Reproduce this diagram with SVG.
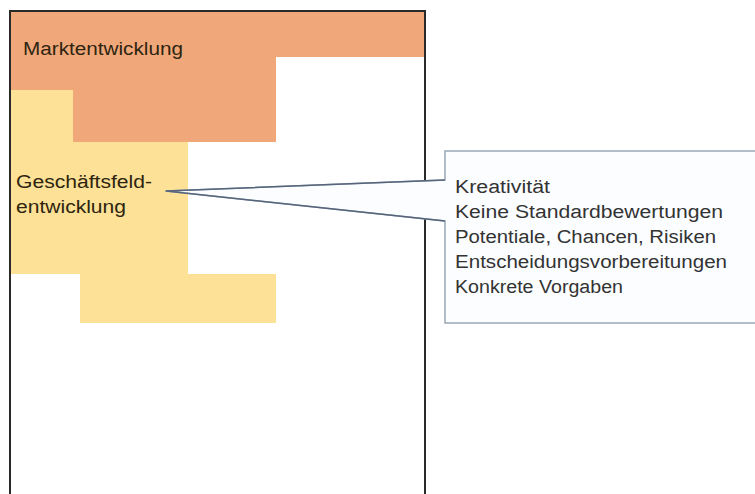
<svg xmlns="http://www.w3.org/2000/svg" width="755" height="494" viewBox="0 0 755 494">
  <style>
    .lbl { font-family: "Liberation Sans", Arial, sans-serif; font-size: 18px; fill: #2e2410; }
    .note { font-family: "Liberation Sans", Arial, sans-serif; font-size: 18px; fill: #333333; }
    .frame { fill: #ffffff; stroke: #2a2a2a; stroke-width: 2; }
    .ptr { fill: none; stroke: #56657a; stroke-width: 1.5; stroke-linejoin: round; }
  </style>
  <rect x="0" y="0" width="755" height="494" fill="#ffffff"/>
  <g id="frame">
    <rect class="frame" x="10" y="11" width="415" height="500"/>
  </g>
  <g id="marktentwicklung">
    <polygon points="11,12 424,12 424,57 276,57 276,142 73,142 73,90 11,90" fill="#F0A87A"/>
  </g>
  <g id="geschaeftsfeldentwicklung">
    <polygon points="11,90 73,90 73,142 188,142 188,274 276,274 276,323 80,323 80,274 11,274" fill="#FCE196"/>
  </g>
  <g id="frame-outline">
    <rect x="10" y="11" width="415" height="500" fill="none" stroke="#2a2a2a" stroke-width="2"/>
  </g>
  <g id="labels">
    <text class="lbl" x="23" y="55" textLength="160" lengthAdjust="spacingAndGlyphs">Marktentwicklung</text>
    <text class="lbl" x="16" y="188" textLength="136" lengthAdjust="spacingAndGlyphs">Geschäftsfeld-</text>
    <text class="lbl" x="16" y="213" textLength="110" lengthAdjust="spacingAndGlyphs">entwicklung</text>
  </g>
  <g id="callout">
    <path d="M445,151 H758 V323 H445 V221 L166,191 L445,180 Z" fill="#fbfdff" stroke="#9aa8b9" stroke-width="1.5"/>
    <text class="note" x="455" y="193" textLength="95" lengthAdjust="spacingAndGlyphs">Kreativität</text>
    <text class="note" x="455" y="218" textLength="268" lengthAdjust="spacingAndGlyphs">Keine Standardbewertungen</text>
    <text class="note" x="455" y="243" textLength="261" lengthAdjust="spacingAndGlyphs">Potentiale, Chancen, Risiken</text>
    <text class="note" x="455" y="268" textLength="272" lengthAdjust="spacingAndGlyphs">Entscheidungsvorbereitungen</text>
    <text class="note" x="455" y="293" textLength="168" lengthAdjust="spacingAndGlyphs">Konkrete Vorgaben</text>
  </g>
  <g id="connectors">
    <polyline class="ptr" points="445,180 166,191 445,221"/>
  </g>
</svg>
